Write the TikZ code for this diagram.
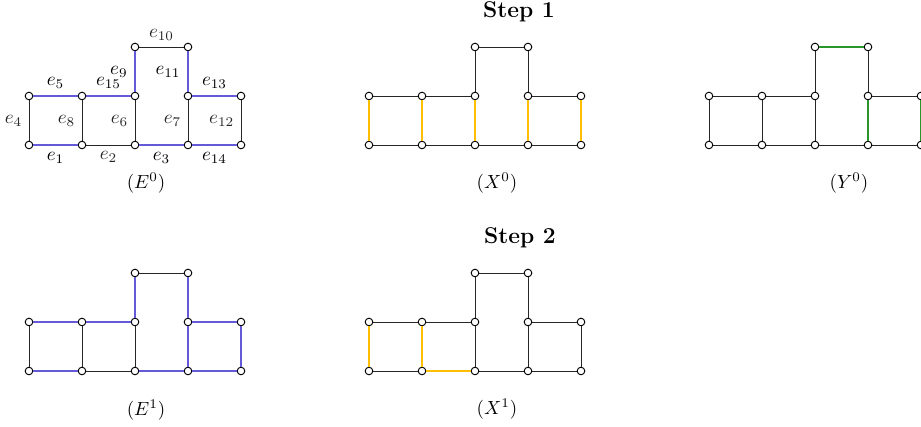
\documentclass[tikz,border=0pt]{standalone}
\usepackage{amsfonts,amssymb,amsmath}
\usepackage{tikz}
\definecolor{eblue}{RGB}{100,90,215}
\definecolor{xyellow}{RGB}{255,190,0}
\definecolor{ygreen}{RGB}{40,150,40}
\newcommand\gridnodes[3]{%
\node[vtx] (#111) at (#2,#3) {};
\node[vtx] (#112) at (#2+53,#3) {};
\node[vtx] (#113) at (#2+106,#3) {};
\node[vtx] (#114) at (#2+159,#3) {};
\node[vtx] (#115) at (#2+212,#3) {};
\node[vtx] (#121) at (#2,#3+49) {};
\node[vtx] (#122) at (#2+53,#3+49) {};
\node[vtx] (#123) at (#2+106,#3+49) {};
\node[vtx] (#124) at (#2+159,#3+49) {};
\node[vtx] (#125) at (#2+212,#3+49) {};
\node[vtx] (#133) at (#2+106,#3+98) {};
\node[vtx] (#134) at (#2+159,#3+98) {};
}

\begin{document}
\begin{tikzpicture}[x=0.0185cm,y=0.0185cm,
	vtx/.style={circle,draw,fill=white,inner sep=0pt,minimum size=4pt,line width=0.5pt},
	plain/.style={line width=0.5pt,black!85},
	bluee/.style={line width=1.2pt,eblue,nodes={text=black}},
	yelle/.style={line width=1.2pt,xyellow},
	greene/.style={line width=1.2pt,ygreen}]
\useasboundingbox (0,0) rectangle (921,427);

\node (step1) at (519,415) {\large\bfseries Step 1};
\node (step2) at (520,189) {\large\bfseries Step 2};

\gridnodes{E0}{29}{282}
\gridnodes{X0}{369}{282}
\gridnodes{Y0}{709}{282}
\gridnodes{E1}{29}{56}
\gridnodes{X1}{369}{56}

\node (capE0) at (146,244) {$(E^0)$};
\node (capX0) at (497,244) {$(X^0)$};
\node (capY0) at (849,244) {$(Y^0)$};
\node (capE1) at (146,17) {$(E^1)$};
\node (capX1) at (497,18) {$(X^1)$};

\draw [plain] (E012) edge node[below] {$e_2$} (E013) (E011) edge node[left] {$e_4$} (E021)
	(E012) edge node[left] {$e_8$} (E022) (E013) edge node[left] {$e_6$} (E023)
	(E014) edge node[left] {$e_7$} (E024) (E015) edge node[left] {$e_{12}$} (E025)
	(E033) edge node[above] {$e_{10}$} (E034);
\draw [bluee] (E011) edge node[below] {$e_1$} (E012) (E013) edge node[below] {$e_3$} (E014)
	(E014) edge node[below] {$e_{14}$} (E015) (E021) edge node[above] {$e_5$} (E022)
	(E022) edge node[above] {$e_{15}$} (E023) (E024) edge node[above] {$e_{13}$} (E025)
	(E023) edge node[left] {$e_9$} (E033) (E024) edge node[left] {$e_{11}$} (E034);

\draw [plain] (X011) edge (X012) (X012) edge (X013) (X013) edge (X014) (X014) edge (X015)
	(X021) edge (X022) (X022) edge (X023) (X024) edge (X025)
	(X023) edge (X033) (X024) edge (X034) (X033) edge (X034);
\draw [yelle] (X011) edge (X021) (X012) edge (X022) (X013) edge (X023)
	(X014) edge (X024) (X015) edge (X025);

\draw [plain] (Y011) edge (Y012) (Y012) edge (Y013) (Y013) edge (Y014) (Y014) edge (Y015)
	(Y021) edge (Y022) (Y022) edge (Y023) (Y024) edge (Y025)
	(Y011) edge (Y021) (Y012) edge (Y022) (Y013) edge (Y023)
	(Y023) edge (Y033) (Y024) edge (Y034);
\draw [greene] (Y033) edge (Y034) (Y014) edge (Y024) (Y015) edge (Y025);

\draw [plain] (E111) edge (E121) (E112) edge (E122) (E112) edge (E113)
	(E113) edge (E123) (E133) edge (E134);
\draw [bluee] (E111) edge (E112) (E113) edge (E114) (E114) edge (E115)
	(E121) edge (E122) (E122) edge (E123) (E124) edge (E125)
	(E123) edge (E133) (E124) edge (E134) (E114) edge (E124) (E115) edge (E125);

\draw [plain] (X111) edge (X112) (X113) edge (X114) (X114) edge (X115)
	(X121) edge (X122) (X122) edge (X123) (X124) edge (X125)
	(X113) edge (X123) (X114) edge (X124) (X115) edge (X125)
	(X123) edge (X133) (X124) edge (X134) (X133) edge (X134);
\draw [yelle] (X111) edge (X121) (X112) edge (X122) (X112) edge (X113);
\end{tikzpicture}
\end{document}
